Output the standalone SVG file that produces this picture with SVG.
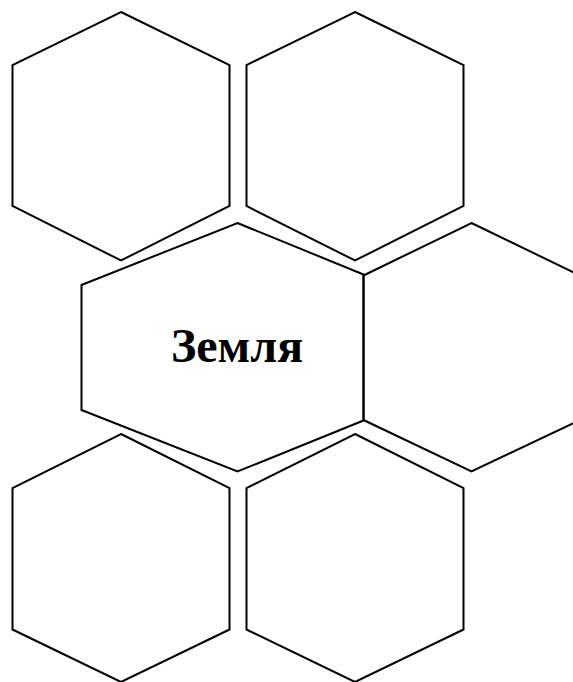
<svg xmlns="http://www.w3.org/2000/svg" width="573" height="682" viewBox="0 0 573 682">
<style>
.hex{fill:none;stroke:#000;stroke-width:2;stroke-linejoin:miter}
.lbl{font-family:"Liberation Serif","Times New Roman",serif;font-weight:bold;font-size:48px;fill:#000;text-anchor:middle}
</style>
<rect width="573" height="682" fill="#fff"/>
<g id="hex-top-left"><polygon class="hex" points="121,12 229.5,65 229.5,206 121,260.5 12.5,206 12.5,65"/></g>
<g id="hex-top-right"><polygon class="hex" points="355,12 463.5,65 463.5,206 355,260.5 246.5,206 246.5,65"/></g>
<g id="hex-right"><polygon class="hex" points="471.5,223 580,275.5 580,420 471.5,471.5 363.5,420 363.5,275.5"/></g>
<g id="hex-center"><polygon class="hex" points="237.5,223 363.5,274.5 363.5,420.5 237.5,471.5 81.5,410 81.5,285"/><text class="lbl" x="237" y="362">Земля</text></g>
<g id="hex-bottom-left"><polygon class="hex" points="121,434 229.5,488 229.5,629.5 121,682 12.5,629.5 12.5,488"/></g>
<g id="hex-bottom-right"><polygon class="hex" points="355,434 463.5,488 463.5,629.5 355,682 246.5,629.5 246.5,488"/></g>
<g id="connectors"/>
</svg>
